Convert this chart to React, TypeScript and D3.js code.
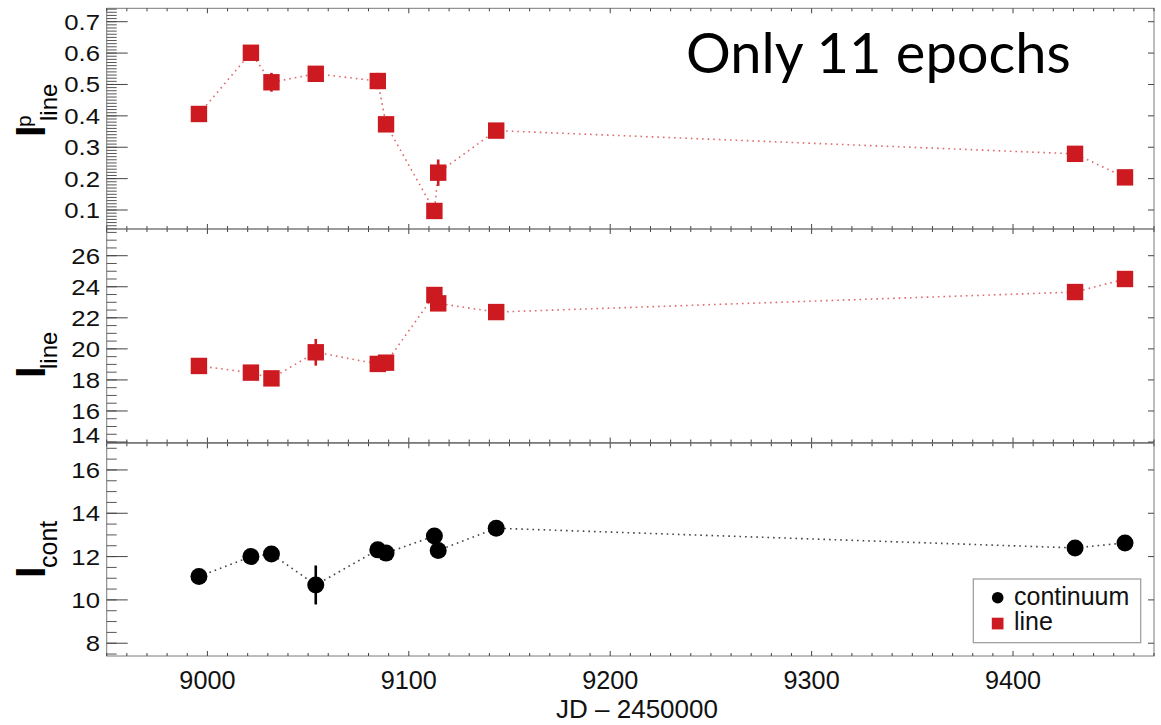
import React from "react";
import * as d3 from "d3";

// ---- data ----
const jd = [8995.8, 9021.6, 9031.8, 9053.8, 9084.6, 9088.7, 9112.7, 9114.6, 9143.4, 9430.8, 9455.6];
const pLine = [0.406, 0.601, 0.507, 0.534, 0.511, 0.373, 0.097, 0.219, 0.353, 0.279, 0.204];
const pLineErr = [0.005, 0.005, 0.03, 0.005, 0.026, 0.005, 0.005, 0.042, 0.005, 0.005, 0.005];
const iLine = [18.9, 18.47, 18.1, 19.78, 19.03, 19.11, 23.47, 22.93, 22.37, 23.66, 24.5];
const iLineErr = [0.2, 0.2, 0.2, 0.86, 0.2, 0.2, 0.2, 0.2, 0.2, 0.2, 0.2];
const iCont = [11.08, 12.0, 12.12, 10.69, 12.31, 12.16, 12.95, 12.28, 13.31, 12.4, 12.63];
const iContErr = [0.15, 0.15, 0.15, 0.9, 0.15, 0.15, 0.15, 0.15, 0.15, 0.15, 0.15];

const xTicks = [9000, 9100, 9200, 9300, 9400];
const topTicks = [0.1, 0.2, 0.3, 0.4, 0.5, 0.6, 0.7];
const midTicks = [14, 16, 18, 20, 22, 24, 26];
const botTicks = [8, 10, 12, 14, 16];
const xDomain = [8950, 9470];
const topDomain = [0.0395, 0.7427];
const midDomain = [13.97, 27.72];
const botDomain = [7.41, 17.23];

const legendLabels = ["continuum", "line"];
const annotation = "Only 11 epochs";
const xTitle = "JD \u2013 2450000";

const RED = "#cc1a20";
const FONT = "'Liberation Sans', Arial, Helvetica, sans-serif";

function range(lo: number, hi: number, step: number) {
  const a = Math.ceil(lo / step - 1e-9);
  const b = Math.floor(hi / step + 1e-9);
  return d3.range(a, b + 1).map((i) => +(i * step).toFixed(6));
}

const L = 106.7, R = 1154;
const x = d3.scaleLinear().domain(xDomain).range([L, R]);

type Panel = {
  top: number; bottom: number; domain: number[]; ticks: number[]; minor: number;
  values: number[]; errs: number[]; shape: "square" | "circle"; fmt: (v: number) => string;
  title: { main: string; sub: string; sup?: string; iy: number; suby: number; supy?: number; subSize: number };
};

const panels: Panel[] = [
  {
    top: 8.3, bottom: 229, domain: topDomain, ticks: topTicks, minor: 0.01,
    values: pLine, errs: pLineErr, shape: "square", fmt: (v) => v.toFixed(1),
    title: { main: "I", sup: "p", sub: "line", iy: 137, suby: 121, supy: 127, subSize: 24 },
  },
  {
    top: 229, bottom: 442.5, domain: midDomain, ticks: midTicks, minor: 0.5,
    values: iLine, errs: iLineErr, shape: "square", fmt: (v) => String(v),
    title: { main: "I", sub: "line", iy: 378, suby: 369, subSize: 24 },
  },
  {
    top: 443.3, bottom: 656, domain: botDomain, ticks: botTicks, minor: 0.5,
    values: iCont, errs: iContErr, shape: "circle", fmt: (v) => String(v),
    title: { main: "I", sub: "cont", iy: 578, suby: 568, subSize: 25 },
  },
];

function PanelView({ p }: { p: Panel }) {
  const y = d3.scaleLinear().domain(p.domain).range([p.bottom, p.top]);
  const minorY = range(p.domain[0], p.domain[1], p.minor);
  const minorX = range(xDomain[0], xDomain[1], 10);
  const pts = jd.map((d, i) => [x(d), y(p.values[i])] as [number, number]);
  const line = d3.line()(pts) || "";
  const col = p.shape === "square" ? RED : "#000";
  const dotCol = p.shape === "square" ? "#e06a6a" : "#444";
  const t = p.title;
  return (
    <g>
      <rect x={L} y={p.top} width={R - L} height={p.bottom - p.top} fill="none" stroke="#7a7a7a" strokeWidth={1} />
      {minorY.map((v, i) => (
        <line key={"m" + i} x1={L} x2={L + 10} y1={y(v)} y2={y(v)} stroke="#555" strokeWidth={1} />
      ))}
      {p.ticks.map((v, i) => {
        const yy = y(v);
        const ly = Math.min(yy, p.bottom - 7);
        return (
          <g key={"M" + i}>
            <line x1={L} x2={L + 21} y1={yy} y2={yy} stroke="#444" strokeWidth={1} />
            <line x1={R - 6} x2={R} y1={yy} y2={yy} stroke="#444" strokeWidth={1} />
            <text transform={`translate(100,${ly}) scale(1.17,1)`} textAnchor="end" dy="0.36em"
              fontFamily={FONT} fontSize={22} fill="#111">{p.fmt(v)}</text>
          </g>
        );
      })}
      {minorX.map((v, i) => {
        const major = Math.abs(v % 100) < 1e-6;
        const len = major ? 5 : 3;
        return (
          <g key={"x" + i}>
            <line x1={x(v)} x2={x(v)} y1={p.bottom} y2={p.bottom - len} stroke="#444" strokeWidth={1} />
            <line x1={x(v)} x2={x(v)} y1={p.top} y2={p.top + len} stroke="#444" strokeWidth={1} />
          </g>
        );
      })}
      <path d={line} fill="none" stroke={dotCol} strokeWidth={1.6} strokeDasharray="1.6,4" />
      {jd.map((d, i) => (
        <line key={"e" + i} x1={x(d)} x2={x(d)} y1={y(p.values[i] - p.errs[i])} y2={y(p.values[i] + p.errs[i])}
          stroke={col} strokeWidth={2.6} />
      ))}
      {pts.map(([px, py], i) =>
        p.shape === "square" ? (
          <rect key={"s" + i} x={px - 8.2} y={py - 8.2} width={16.4} height={16.4} fill={RED} />
        ) : (
          <circle key={"c" + i} cx={px} cy={py} r={8.5} fill="#000" />
        )
      )}
      <text transform={`translate(45,${t.iy}) rotate(-90)`} fontFamily={FONT} fontSize={42} fontWeight="bold" fill="#000">{t.main}</text>
      {t.sup && (
        <text transform={`translate(31,${t.supy}) rotate(-90)`} fontFamily={FONT} fontSize={21} fill="#000">{t.sup}</text>
      )}
      <text transform={`translate(57,${t.suby}) rotate(-90)`} fontFamily={FONT} fontSize={t.subSize} fill="#000">{t.sub}</text>
    </g>
  );
}

export default function App() {
  return (
    <svg width={1161} height={725} style={{ position: "absolute", left: 0, top: 0, background: "#fff" }}>
      <rect width={1161} height={725} fill="#fff" />
      {panels.map((p, i) => <PanelView key={i} p={p} />)}
      {xTicks.map((v) => (
        <text key={v} transform={`translate(${x(v)},689) scale(0.97,1)`} textAnchor="middle"
          fontFamily={FONT} fontSize={26} fill="#111">{v}</text>
      ))}
      <text transform="translate(637,718)" textAnchor="middle" fontFamily={FONT} fontSize={26} fill="#111">{xTitle}</text>
      <text x={686} y={73} fontFamily="Lato, 'Open Sans', sans-serif" fontSize={56} fill="#000">{annotation}</text>
      <g>
        <rect x={973.3} y={579} width={167.4} height={63.7} fill="#fff" stroke="#999" strokeWidth={1.2} />
        <circle cx={997.7} cy={597.7} r={5.8} fill="#000" />
        <rect x={991.8} y={617.7} width={11.7} height={11.7} fill={RED} />
        <text x={1014} y={604.5} fontFamily={FONT} fontSize={25} fill="#111">{legendLabels[0]}</text>
        <text x={1014} y={630} fontFamily={FONT} fontSize={25} fill="#111">{legendLabels[1]}</text>
      </g>
    </svg>
  );
}
